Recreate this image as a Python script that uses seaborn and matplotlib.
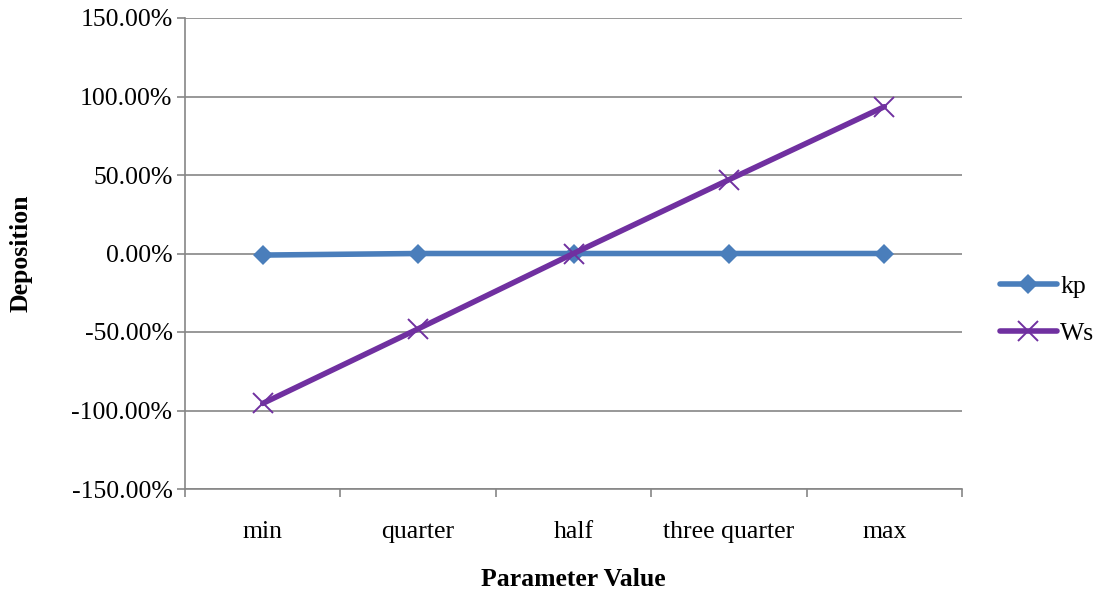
import pandas as pd
import matplotlib.pyplot as plt
import seaborn as sns
from matplotlib.ticker import FuncFormatter

categories = ['min', 'quarter', 'half', 'three quarter', 'max']
kp_values = [-1.0, 0.0, 0.0, 0.0, 0.0]
ws_values = [-95.5, -48.0, 0.0, 47.0, 93.5]
y_ticks = [-150, -100, -50, 0, 50, 100, 150]


def main():
    sns.set_style('white')
    plt.rcParams['font.family'] = ['Liberation Serif', 'DejaVu Serif']
    plt.rcParams['text.color'] = 'black'
    plt.rcParams['xtick.color'] = 'black'
    plt.rcParams['ytick.color'] = 'black'
    plt.rcParams['axes.labelcolor'] = 'black'

    df = pd.DataFrame({'pos': range(len(categories)), 'kp': kp_values, 'Ws': ws_values})

    fig = plt.figure(figsize=(11.02, 5.94), dpi=100)
    ax = fig.add_axes([185 / 1102, 1 - 489 / 594, 777 / 1102, 471 / 594])

    sns.lineplot(data=df, x='pos', y='kp', ax=ax, color='#4A7EBB', linewidth=4,
                 marker='D', markersize=10, markeredgewidth=0, label='kp', zorder=3)
    sns.lineplot(data=df, x='pos', y='Ws', ax=ax, color='#7030A0', linewidth=4,
                 marker='x', markersize=14, markeredgewidth=1.4, markeredgecolor='#7030A0',
                 label='Ws', zorder=4)

    ax.set_xlim(-0.5, len(categories) - 0.5)
    ax.set_ylim(-150, 150)
    ax.set_yticks(y_ticks)
    ax.yaxis.set_major_formatter(FuncFormatter(lambda v, p: f'{v:.2f}%'))
    ax.yaxis.grid(True, color='#868686', linewidth=1.2)
    ax.set_axisbelow(True)

    # category labels in the middle, tick marks on the boundaries
    ax.set_xticks(range(len(categories)))
    ax.set_xticklabels(categories)
    ax.set_xticks([i - 0.5 for i in range(len(categories) + 1)], minor=True)
    ax.tick_params(axis='x', which='major', length=0, pad=23, labelsize=18.5)
    ax.tick_params(axis='x', which='minor', length=6, width=1.2, color='#868686', direction='out', bottom=True)
    ax.tick_params(axis='y', length=6, width=1.2, color='#868686', labelcolor='black', direction='out',
                   left=True, labelsize=18.5, pad=3)

    for side in ['top', 'right']:
        ax.spines[side].set_visible(False)
    for side in ['left', 'bottom']:
        ax.spines[side].set_color('#868686')
        ax.spines[side].set_linewidth(1.2)

    ax.set_xlabel('Parameter Value', fontsize=18.5, fontweight='bold', labelpad=18)
    ax.set_ylabel('Deposition', fontsize=18.5, fontweight='bold', labelpad=28)

    ax.get_legend().remove()
    handles, labels = ax.get_legend_handles_labels()
    fig.legend(handles, labels, loc='center left', bbox_to_anchor=(1000 / 1102, 1 - 310 / 594),
               frameon=False, fontsize=18.5, handlelength=2.2, handletextpad=0.15, labelspacing=0.9,
               borderpad=0, borderaxespad=0)

    fig.savefig('out.png', dpi=100)


if __name__ == '__main__':
    main()
